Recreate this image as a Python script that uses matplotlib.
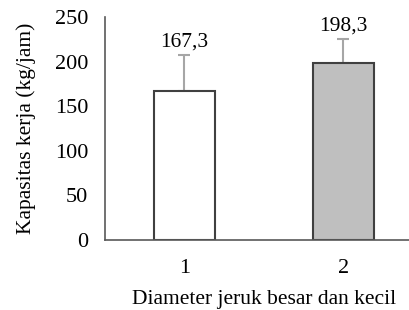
import matplotlib.pyplot as plt

categories = ["1", "2"]
values = [167.3, 198.3]
errors = [40, 27]
labels = ["167,3", "198,3"]
colors = ["white", "#bfbfbf"]

plt.rcParams['font.family'] = ['Liberation Serif', 'DejaVu Serif']

fig = plt.figure(figsize=(4.1, 3.1), dpi=100)
ax = fig.add_axes([105/410, 70/310, 318/410, 223/310])

x = [1, 2]
ax.bar(x, values, width=0.38, color=colors, edgecolor="#404040", linewidth=1.5, zorder=2)
ax.errorbar(x, values, yerr=[[0, 0], errors], fmt="none", ecolor="#a6a6a6",
            elinewidth=1.5, capsize=4, capthick=1.5, zorder=1)
for xi, v, e, lab in zip(x, values, errors, labels):
    ax.text(xi, v + e + 4, lab, ha="center", va="bottom", fontsize=15.5)

ax.set_xlim(0.5, 2.5)
ax.set_ylim(0, 250)
ax.set_yticks([0, 50, 100, 150, 200, 250])
ax.set_xticks(x)
ax.set_xticklabels(categories)
ax.tick_params(length=0, labelsize=16, pad=14)
ax.tick_params(axis="y", pad=12)
for s in ["top", "right"]:
    ax.spines[s].set_visible(False)
for s in ["left", "bottom"]:
    ax.spines[s].set_color("#595959")
    ax.spines[s].set_linewidth(1.2)

ax.set_ylabel("Kapasitas kerja (kg/jam)", fontsize=15.5, labelpad=14)
ax.set_xlabel("Diameter jeruk besar dan kecil", fontsize=15.5, labelpad=8)

fig.savefig("out.png", dpi=100)
